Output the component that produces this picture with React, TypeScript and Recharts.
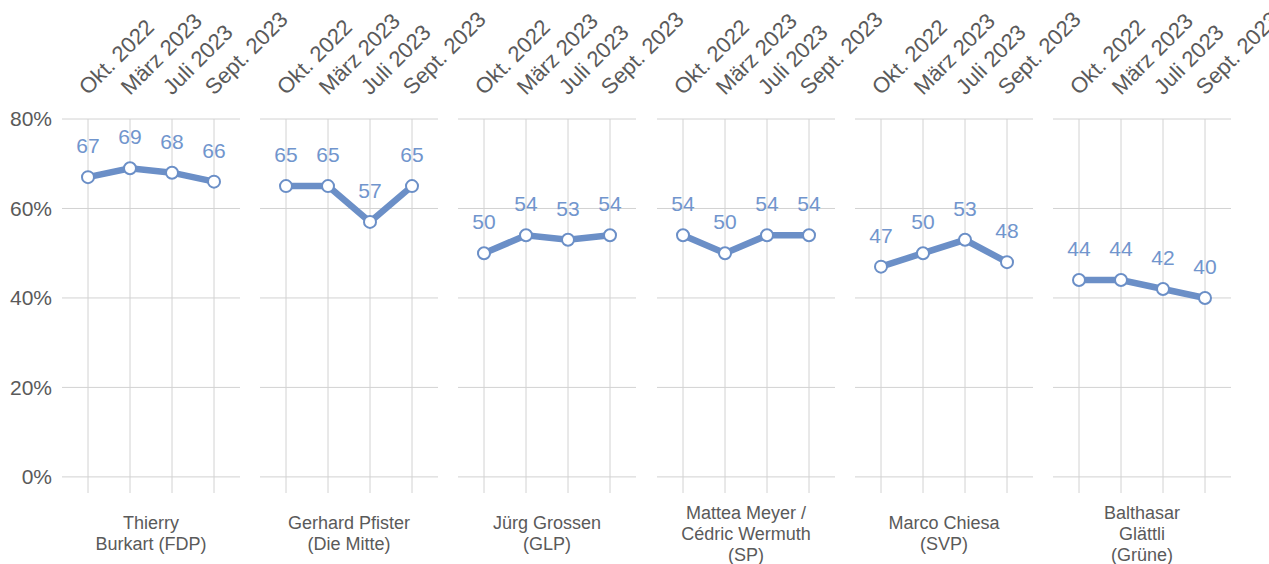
import { LineChart, Line, XAxis, YAxis, CartesianGrid, LabelList } from "recharts"

const months = ["Okt. 2022", "März 2023", "Juli 2023", "Sept. 2023"]
const yTicks = [0, 20, 40, 60, 80]

const candidates = [
  "Thierry\nBurkart (FDP)",
  "Gerhard Pfister\n(Die Mitte)",
  "Jürg Grossen\n(GLP)",
  "Mattea Meyer /\nCédric Wermuth\n(SP)",
  "Marco Chiesa\n(SVP)",
  "Balthasar\nGlättli\n(Grüne)",
]

const burkart = [67, 69, 68, 66]
const pfister = [65, 65, 57, 65]
const grossen = [50, 54, 53, 54]
const meyerWermuth = [54, 50, 54, 54]
const chiesa = [47, 50, 53, 48]
const glaettli = [44, 44, 42, 40]

const series = [burkart, pfister, grossen, meyerWermuth, chiesa, glaettli]

const FONT = '"Liberation Sans", Arial, Helvetica, sans-serif'
const BLUE = "#6b8fc7"
const LABEL_BLUE = "#7195cd"
const GRID = "#d2d2d2"
const TEXT = "#5a5a5a"

const PANEL_STEP = 198.2
const AXIS_W = 62
const PLOT_W = 178
const RIGHT_PAD = 90

function MonthTick(props: any) {
  const { x, y, payload } = props
  return (
    <g transform={`translate(${x},${y - 23})`}>
      <text transform="rotate(-45)" textAnchor="start" fontSize={22} fill={TEXT} fontFamily={FONT}>
        {payload.value}
      </text>
    </g>
  )
}

// keeps the ticks (and so the grid lines) but draws nothing
function NoTick() {
  return <g />
}

function Panel({ values, index }: { values: number[]; index: number }) {
  const data = months.map((m, i) => ({ month: m, value: values[i] }))
  const first = index === 0
  return (
    <LineChart
      width={AXIS_W + PLOT_W + RIGHT_PAD}
      height={564}
      data={data}
      margin={{ top: 89, right: RIGHT_PAD, bottom: 71, left: 0 }}
    >
      <CartesianGrid stroke={GRID} strokeWidth={1} syncWithTicks />
      <XAxis
        dataKey="month"
        orientation="top"
        height={30}
        padding={{ left: 26, right: 26 }}
        axisLine={false}
        tickLine={false}
        tickSize={0}
        tickMargin={0}
        interval={0}
        tick={<MonthTick />}
      />
      <YAxis
        width={AXIS_W}
        domain={[-3.6, 80]}
        ticks={yTicks}
        axisLine={false}
        tickLine={false}
        tickMargin={4}
        tickFormatter={(v: number) => `${v}%`}
        tick={first ? { fontSize: 21, fill: TEXT, fontFamily: FONT } : <NoTick />}
      />
      <Line
        dataKey="value"
        stroke={BLUE}
        strokeWidth={6.5}
        dot={{ r: 6, fill: "#ffffff", stroke: BLUE, strokeWidth: 2 }}
        activeDot={false}
        isAnimationActive={false}
      >
        <LabelList dataKey="value" position="top" offset={24} fontSize={21} fill={LABEL_BLUE} fontFamily={FONT} />
      </Line>
    </LineChart>
  )
}

export default function App() {
  return (
    <div
      style={{
        position: "absolute",
        left: 0,
        top: 0,
        width: 1269,
        height: 564,
        overflow: "hidden",
        background: "#ffffff",
        fontFamily: FONT,
      }}
    >
      {series.map((values, k) => {
        const left = Math.round(PANEL_STEP * k)
        return (
          <div key={k} style={{ position: "absolute", left, top: 0 }}>
            <Panel values={values} index={k} />
          </div>
        )
      })}
      {candidates.map((name, k) => (
        <div
          key={name}
          style={{
            position: "absolute",
            left: Math.round(PANEL_STEP * k) + AXIS_W,
            top: 500,
            width: PLOT_W,
            height: 68,
            display: "flex",
            flexDirection: "column",
            justifyContent: "center",
            textAlign: "center",
            whiteSpace: "pre-line",
            fontSize: 18,
            lineHeight: "21px",
            color: TEXT,
          }}
        >
          {name}
        </div>
      ))}
    </div>
  )
}
